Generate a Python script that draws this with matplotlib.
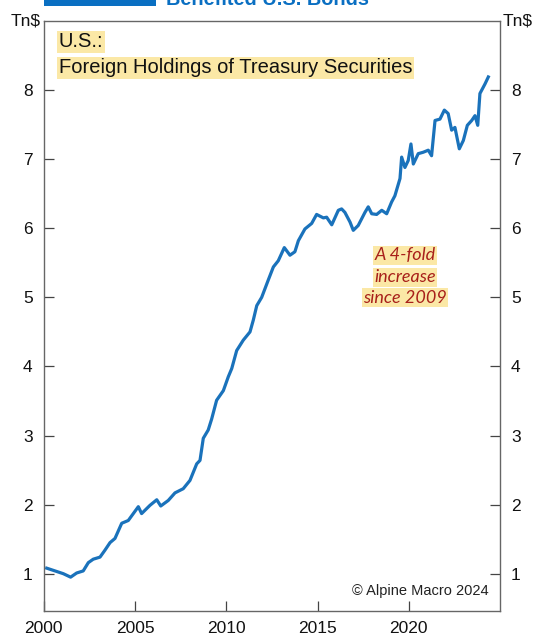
import matplotlib
matplotlib.use("Agg")
import matplotlib.pyplot as plt
from matplotlib.patches import Rectangle

# Foreign holdings of U.S. Treasury securities, trillions of dollars
years = [2000.16, 2001.07, 2001.47, 2001.80, 2002.16, 2002.44, 2002.71, 2003.08,
         2003.35, 2003.63, 2003.90, 2004.27, 2004.63, 2005.18, 2005.36, 2005.82,
         2006.19, 2006.41, 2006.82, 2007.19, 2007.64, 2008.01, 2008.38, 2008.56,
         2008.74, 2009.01, 2009.20, 2009.47, 2009.84, 2010.11, 2010.30, 2010.57,
         2010.93, 2011.30, 2011.48, 2011.67, 2011.94, 2012.30, 2012.58, 2012.85,
         2013.18, 2013.49, 2013.76, 2013.95, 2014.31, 2014.68, 2014.95, 2015.32,
         2015.50, 2015.78, 2016.14, 2016.32, 2016.50, 2016.78, 2016.96, 2017.23,
         2017.60, 2017.78, 2017.97, 2018.24, 2018.52, 2018.79, 2019.06, 2019.24,
         2019.52, 2019.61, 2019.79, 2019.97, 2020.12, 2020.25, 2020.52, 2020.79,
         2021.07, 2021.25, 2021.44, 2021.71, 2021.95, 2022.16, 2022.35, 2022.53,
         2022.77, 2022.99, 2023.21, 2023.45, 2023.63, 2023.78, 2023.90, 2024.18,
         2024.36]
holdings = [1.08, 1.00, 0.95, 1.01, 1.04, 1.16, 1.21, 1.24,
            1.34, 1.45, 1.51, 1.73, 1.77, 1.97, 1.87, 1.99,
            2.07, 1.98, 2.06, 2.17, 2.23, 2.35, 2.59, 2.64,
            2.96, 3.08, 3.24, 3.51, 3.65, 3.85, 3.97, 4.23,
            4.38, 4.50, 4.67, 4.88, 5.00, 5.25, 5.44, 5.53,
            5.72, 5.61, 5.66, 5.82, 5.99, 6.07, 6.20, 6.15,
            6.16, 6.05, 6.26, 6.28, 6.23, 6.09, 5.97, 6.04,
            6.23, 6.31, 6.21, 6.20, 6.26, 6.21, 6.38, 6.47,
            6.72, 7.03, 6.88, 6.98, 7.22, 6.93, 7.08, 7.10,
            7.13, 7.05, 7.56, 7.58, 7.71, 7.66, 7.42, 7.46,
            7.15, 7.27, 7.49, 7.56, 7.63, 7.49, 7.95, 8.09,
            8.19]

x_ticks = [2000, 2005, 2010, 2015, 2020]
y_ticks = [1, 2, 3, 4, 5, 6, 7, 8]

plt.rcParams['font.family'] = ['Liberation Sans', 'DejaVu Sans']

fig = plt.figure(figsize=(5.36, 6.36), dpi=100)
ax = fig.add_axes([43.8 / 536, 25 / 636, (500 - 43.8) / 536, (611 - 21) / 636])

line_color = '#1a72bb'
ax.plot(years, holdings, color=line_color, lw=2.3, solid_joinstyle='round')

ax.set_xlim(2000, 2025)
ax.set_ylim(0.46, 9.0)
ax.set_xticks(x_ticks)
ax.set_xticklabels([str(y) for y in x_ticks])
ax.set_yticks(y_ticks)
ax.set_yticklabels([str(v) for v in y_ticks])

ax.tick_params(axis='x', direction='in', length=7.5, width=0.9, color='#444444',
               labelsize=12.5, pad=7, labelcolor='#111111')
ax.tick_params(axis='y', direction='in', length=7.5, width=0.9, color='#444444',
               labelsize=12.5, pad=8, labelcolor='#111111',
               left=True, right=True, labelleft=True, labelright=True)
for s in ax.spines.values():
    s.set_color('#666666')
    s.set_linewidth(1.0)

# unit labels at the top corners
fig.text(41 / 536, 1 - 21 / 636, 'Tn$', ha='right', va='center', fontsize=12.5, color='#111111')
fig.text(503 / 536, 1 - 21 / 636, 'Tn$', ha='left', va='center', fontsize=12.5, color='#111111')

# chart heading band (top of the page)
fig.patches.append(Rectangle((44 / 536, 1 - 6 / 636), (156 - 44) / 536, 30 / 636,
                             transform=fig.transFigure, facecolor='#0a6fc2',
                             edgecolor='none'))
fig.text(166 / 536, 1 - 5 / 636, 'Benefited U.S. Bonds', ha='left', va='baseline',
         fontsize=14.3, fontweight='bold', color='#0a6fc2')

highlight = dict(facecolor='#fbe8a6', edgecolor='none', pad=1.0)
ax.text(0.033, 0.965, 'U.S.:', transform=ax.transAxes, ha='left', va='center',
        fontsize=14.5, color='#111111', bbox=highlight)
ax.text(0.033, 0.921, 'Foreign Holdings of Treasury Securities', transform=ax.transAxes,
        ha='left', va='center', fontsize=14.5, color='#111111', bbox=highlight)

note_lines = ['A 4-fold', 'increase', 'since 2009']
note_y = [0.603, 0.566, 0.531]
for txt, yy in zip(note_lines, note_y):
    ax.text(0.792, yy, txt, transform=ax.transAxes, ha='center', va='center',
            fontsize=13, style='italic', color='#a8201a', family='Lato',
            bbox=dict(facecolor='#fbe8a6', edgecolor='none', pad=1.0))

ax.text(0.976, 0.034, '\u00a9 Alpine Macro 2024', transform=ax.transAxes,
        ha='right', va='center', fontsize=10.5, color='#222222')

fig.savefig('out.png', dpi=100)
